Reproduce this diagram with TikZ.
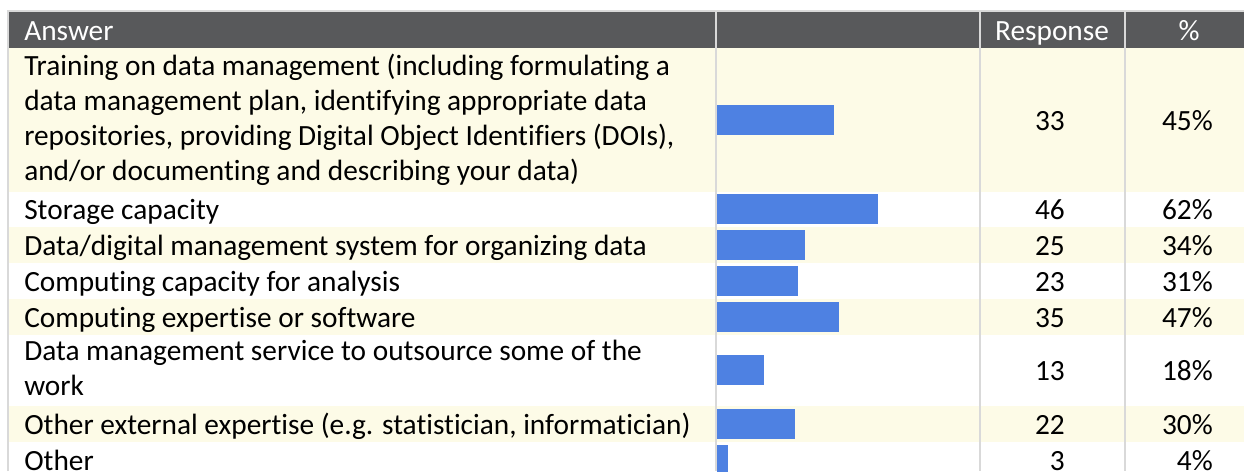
\documentclass[tikz,border=0pt]{standalone}
\usepackage{fontspec}
\setmainfont{Carlito}[Ligatures=NoCommon]
\definecolor{headgray}{RGB}{88,89,91}
\definecolor{rulegray}{RGB}{217,217,217}
\definecolor{rowcream}{RGB}{253,251,231}
\definecolor{barblue}{RGB}{78,129,226}
\newcommand{\rs}{\rule[-6.6pt]{0pt}{25.875pt}}
\tikzset{
  answer/.style={anchor=west, inner sep=0pt, align=left, yshift=-1.5pt,
    execute at begin node=\rs, execute at end node=\rs},
  value/.style={anchor=east, inner sep=0pt, yshift=-1.5pt, execute at begin node=\rs},
  head/.style={inner sep=0pt, text=white, yshift=-1.5pt, execute at begin node=\rs},
  bar/.style={fill=barblue},
  cream/.style={fill=rowcream},
  sep/.style={draw=rulegray, line width=1.5pt}
}
\begin{document}
\begin{tikzpicture}[x=0.75pt, y=-0.75pt, font=\fontsize{22pt}{26.1pt}\selectfont]
    \useasboundingbox (0,0) rectangle (1244,471);
    % bands
    \fill[headgray] (8.5,12) rectangle (1244,48);
    \path[cream] (8.5,48) rectangle (1244,191.5);
    \path[cream] (8.5,227) rectangle (1244,262.8);
    \path[cream] (8.5,298.8) rectangle (1244,334.8);
    \path[cream] (8.5,406) rectangle (1244,442);
    % rules
    \draw[sep] (7.5,471) -- (7.5,11) -- (1244,11);
    \draw[sep] (716,12) -- (716,471);
    \draw[sep] (980,12) -- (980,471);
    \draw[sep] (1124.5,12) -- (1124.5,471);
    % bars
    \path[bar] (717,104.75) rectangle ++(117,30);
    \path[bar] (717,194.25) rectangle ++(161.2,30);
    \path[bar] (717,229.9) rectangle ++(88.4,30);
    \path[bar] (717,265.8) rectangle ++(80.6,30);
    \path[bar] (717,301.8) rectangle ++(122.2,30);
    \path[bar] (717,355.4) rectangle ++(46.8,30);
    \path[bar] (717,409) rectangle ++(78,30);
    \path[bar] (717,445) rectangle ++(10.8,30);
    % header
    \node[head, anchor=west] (hA) at (24,30) {Answer};
    \node[head] (hR) at (1052,30) {Response};
    \node[head] (hP) at (1189,30) {\%};
    % answers
    \node[answer] (a1) at (24,119.75) {Training on data management (including formulating a\\
      data management plan, identifying appropriate data\\
      repositories, providing Digital Object Identifiers (DOIs),\\
      and/or documenting and describing your data)};
    \node[answer] (a2) at (24,209.25) {Storage capacity};
    \node[answer] (a3) at (24,244.9) {Data/digital management system for organizing data};
    \node[answer] (a4) at (24,280.8) {Computing capacity for analysis};
    \node[answer] (a5) at (24,316.8) {Computing expertise or software};
    \node[answer] (a6) at (24,370.4) {Data management service to outsource some of the\\
      work};
    \node[answer] (a7) at (24,424) {Other external expertise (e.g. statistician, informatician)};
    \node[answer] (a8) at (24,460) {Other};
    % counts
    \node[value] (n1) at (1065,119.75) {33};
    \node[value] (n2) at (1065,209.25) {46};
    \node[value] (n3) at (1065,244.9) {25};
    \node[value] (n4) at (1065,280.8) {23};
    \node[value] (n5) at (1065,316.8) {35};
    \node[value] (n6) at (1065,370.4) {13};
    \node[value] (n7) at (1065,424) {22};
    \node[value] (n8) at (1065,460) {3};
    % shares
    \node[value] (p1) at (1213,119.75) {45\%};
    \node[value] (p2) at (1213,209.25) {62\%};
    \node[value] (p3) at (1213,244.9) {34\%};
    \node[value] (p4) at (1213,280.8) {31\%};
    \node[value] (p5) at (1213,316.8) {47\%};
    \node[value] (p6) at (1213,370.4) {18\%};
    \node[value] (p7) at (1213,424) {30\%};
    \node[value] (p8) at (1213,460) {4\%};
  \end{tikzpicture}
\end{document}
